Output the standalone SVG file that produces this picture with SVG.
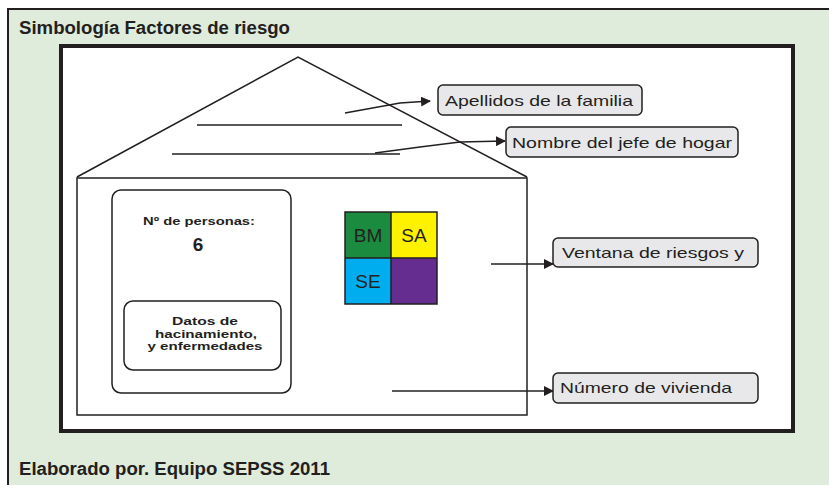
<svg xmlns="http://www.w3.org/2000/svg" width="829" height="485" viewBox="0 0 829 485">
<style>
.ttl{font-family:"Liberation Sans",Arial,sans-serif;font-weight:bold;font-size:18px;fill:#231f20}
.lbl{font-family:"Liberation Sans",Arial,sans-serif;font-size:15px;fill:#231f20}
.sm{font-family:"Liberation Sans",Arial,sans-serif;font-size:10.5px;fill:#231f20;text-anchor:middle}
.cell{font-family:"Liberation Sans",Arial,sans-serif;font-size:19px;fill:#231f20;text-anchor:middle}
.box{fill:#e8e8ea;stroke:#231f20;stroke-width:1.5}
.ln{stroke:#231f20;stroke-width:1.5;fill:none}
.conn{stroke:#231f20;stroke-width:1.5;fill:none}
</style>
<defs>
<marker id="arr" markerWidth="10" markerHeight="10" refX="9" refY="5" orient="auto" markerUnits="userSpaceOnUse" viewBox="0 0 10 10">
<path d="M0,0 L10,5 L0,10 z" fill="#231f20"/>
</marker>
</defs>
<rect x="0" y="0" width="829" height="485" fill="#ffffff"/>
<rect x="8" y="9" width="830" height="490" fill="#e0ecdb" stroke="#231f20" stroke-width="2"/>
<text class="ttl" x="19" y="34" textLength="271" lengthAdjust="spacingAndGlyphs">Simbología Factores de riesgo</text>
<text class="ttl" x="19" y="475" textLength="311" lengthAdjust="spacingAndGlyphs">Elaborado por. Equipo SEPSS 2011</text>
<rect x="61" y="46" width="732" height="385" fill="#ffffff" stroke="#231f20" stroke-width="4"/>
<g id="house">
<polyline class="ln" points="77,177 298,57 527,177"/>
<rect class="ln" x="77" y="178" width="450" height="237"/>
<line class="ln" x1="197" y1="125" x2="402" y2="125"/>
<line class="ln" x1="172" y1="154" x2="400" y2="154"/>
</g>
<g id="persons">
<rect class="ln" x="112" y="190" width="179" height="203" rx="9"/>
<text class="sm" x="199" y="225" font-weight="bold" textLength="112" lengthAdjust="spacingAndGlyphs">Nº de personas:</text>
<text x="198" y="251" font-family="Liberation Sans,Arial,sans-serif" font-size="19" font-weight="bold" fill="#231f20" text-anchor="middle">6</text>
<rect class="ln" x="124" y="301" width="157" height="69" rx="9"/>
<text class="sm" x="205" y="325" font-weight="bold" textLength="66" lengthAdjust="spacingAndGlyphs">Datos de</text>
<text class="sm" x="206" y="338" font-weight="bold" textLength="102" lengthAdjust="spacingAndGlyphs">hacinamiento,</text>
<text class="sm" x="205" y="350" font-weight="bold" textLength="115" lengthAdjust="spacingAndGlyphs">y enfermedades</text>
</g>
<g id="risk-window">
<rect x="345" y="212" width="46" height="46" fill="#1b8b3f"/>
<rect x="391" y="212" width="46" height="46" fill="#fff200"/>
<rect x="345" y="258" width="46" height="46" fill="#00aeef"/>
<rect x="391" y="258" width="46" height="46" fill="#662d91"/>
<path d="M345,212 H437 V304 H345 Z M391,212 V304 M345,258 H437" fill="none" stroke="#231f20" stroke-width="1.5"/>
<text class="cell" x="368" y="242">BM</text>
<text class="cell" x="414" y="242">SA</text>
<text class="cell" x="368" y="288">SE</text>
</g>
<g id="connectors">
<polyline class="conn" points="345,113 400,103 430,101" marker-end="url(#arr)"/>
<polyline class="conn" points="375,153 420,147 460,142 505,141" marker-end="url(#arr)"/>
<line class="conn" x1="491" y1="264" x2="553" y2="264" marker-end="url(#arr)"/>
<line class="conn" x1="392" y1="391" x2="553" y2="391" marker-end="url(#arr)"/>
</g>
<g id="label-apellidos">
<rect class="box" x="438" y="85" width="204" height="30" rx="5"/>
<text class="lbl" x="445" y="106" textLength="188" lengthAdjust="spacingAndGlyphs">Apellidos de la familia</text>
</g>
<g id="label-nombre">
<rect class="box" x="506" y="127" width="232" height="30" rx="5"/>
<text class="lbl" x="512" y="148" textLength="220" lengthAdjust="spacingAndGlyphs">Nombre del jefe de hogar</text>
</g>
<g id="label-ventana">
<rect class="box" x="553" y="238" width="205" height="29" rx="5"/>
<text class="lbl" x="562" y="258" textLength="182" lengthAdjust="spacingAndGlyphs">Ventana de riesgos y</text>
</g>
<g id="label-numero">
<rect class="box" x="553" y="373" width="205" height="30" rx="5"/>
<text class="lbl" x="560" y="393" textLength="172" lengthAdjust="spacingAndGlyphs">Número de vivienda</text>
</g>
</svg>
